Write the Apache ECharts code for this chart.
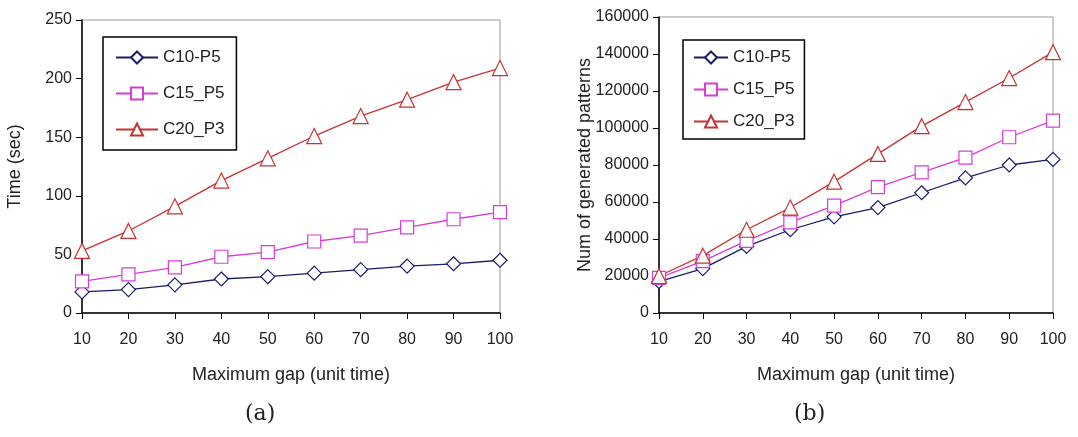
<!DOCTYPE html>
<html><head><meta charset="utf-8">
<script src="https://cdn.jsdelivr.net/npm/echarts@6/dist/echarts.min.js"></script>
<style>html,body{margin:0;padding:0;background:#fff}#c{width:1078px;height:437px}</style>
</head><body><div id="c"></div>
<script>
const gaps = [10,20,30,40,50,60,70,80,90,100];
const seriesNames = ['C10-P5','C15_P5','C20_P3'];
const timeC10 = [18,20,24,29,31,34,37,40,42,45];
const timeC15 = [27,33,39,48,52,61,66,73,80,86];
const timeC20 = [53,70,91,113,132,151,168,182,197,209];
const patC10 = [17000,24000,36000,45000,52000,57000,65000,73000,80000,83000];
const patC15 = [19000,28000,39000,49000,58000,68000,76000,84000,95000,104000];
const patC20 = [20000,31000,45000,57000,71000,86000,101000,114000,127000,141000];
const xTicks = {min:10,max:100,interval:10};
const timeTicks = {min:0,max:250,interval:50};
const patTicks = {min:0,max:160000,interval:20000};

const colors = ['#1c1c6b','#d63cd6','#c83232'];
const symbols = ['diamond','rect','triangle'];
const sizes = [14,13,15];
const font = 'Liberation Sans, Arial, sans-serif';

function mk(name, data, i, g){
  return {name, type:'line', xAxisIndex:g, yAxisIndex:g,
    data: gaps.map((x,k)=>[x,data[k]]),
    symbol:symbols[i], symbolSize:sizes[i], showAllSymbol:true,
    lineStyle:{color:colors[i], width:1.3},
    itemStyle:{color:'#fff', borderColor:colors[i], borderWidth:1.2},
    animation:false};
}
function xAx(g){
  return {type:'value', gridIndex:g, min:xTicks.min, max:xTicks.max, interval:xTicks.interval,
    name:'Maximum gap (unit time)', nameLocation:'middle', nameGap:53, nameMoveOverlap:false,
    nameTextStyle:{fontFamily:font, fontSize:18, color:'#222'},
    axisLine:{lineStyle:{color:'#000', width:1.5}},
    axisTick:{show:true, length:6, lineStyle:{color:'#000'}},
    axisLabel:{fontFamily:font, fontSize:16, color:'#222', margin:19, formatter:v=>String(v)},
    splitLine:{show:false}};
}
function yAx(g, t, name, gap){
  return {type:'value', gridIndex:g, min:t.min, max:t.max, interval:t.interval,
    name, nameLocation:'middle', nameGap:gap, nameRotate:90, nameMoveOverlap:false,
    nameTextStyle:{fontFamily:font, fontSize:18, color:'#222'},
    axisLine:{show:true, lineStyle:{color:'#000', width:1.5}},
    axisTick:{show:true, length:6, lineStyle:{color:'#000'}},
    axisLabel:{fontFamily:font, fontSize:16, color:'#222', margin:10, formatter:v=>String(v)},
    splitLine:{show:false}};
}
function lg(left, top, gap, iw, pad){
  return {show:true, orient:'vertical', left, top,
    data: seriesNames.map(n=>({name:n})),
    borderColor:'#000', borderWidth:1.5, padding:pad, itemGap:gap,
    itemWidth:iw, itemHeight:15,
    textStyle:{fontFamily:font, fontSize:17, color:'#222'}};
}
const chart = echarts.init(document.getElementById('c'), null, {renderer:'canvas'});
chart.setOption({
  backgroundColor:'#fff',
  animation:false,
  grid:[
    {left:82, top:20, width:418, height:293, show:true, borderColor:'#999', borderWidth:1, backgroundColor:'transparent'},
    {left:659, top:17, width:394, height:296, show:true, borderColor:'#999', borderWidth:1, backgroundColor:'transparent'}
  ],
  xAxis:[xAx(0), xAx(1)],
  yAxis:[yAx(0, timeTicks, 'Time (sec)', 58), yAx(1, patTicks, 'Num of generated patterns', 65)],
  legend:[lg(103,37,19,42,[12,12,12,12]), lg(683,40,15,34,[9,10,9,10])],
  series:[
    mk(seriesNames[0], timeC10, 0, 0), mk(seriesNames[1], timeC15, 1, 0), mk(seriesNames[2], timeC20, 2, 0),
    mk(seriesNames[0], patC10, 0, 1), mk(seriesNames[1], patC15, 1, 1), mk(seriesNames[2], patC20, 2, 1)
  ],
  graphic:[
    {type:'text', left:245, top:403, style:{text:'(a)', font:'22px "DejaVu Serif", "Liberation Serif", serif', fill:'#222'}},
    {type:'text', left:794, top:403, style:{text:'(b)', font:'22px "DejaVu Serif", "Liberation Serif", serif', fill:'#222'}}
  ]
});
</script></body></html>
